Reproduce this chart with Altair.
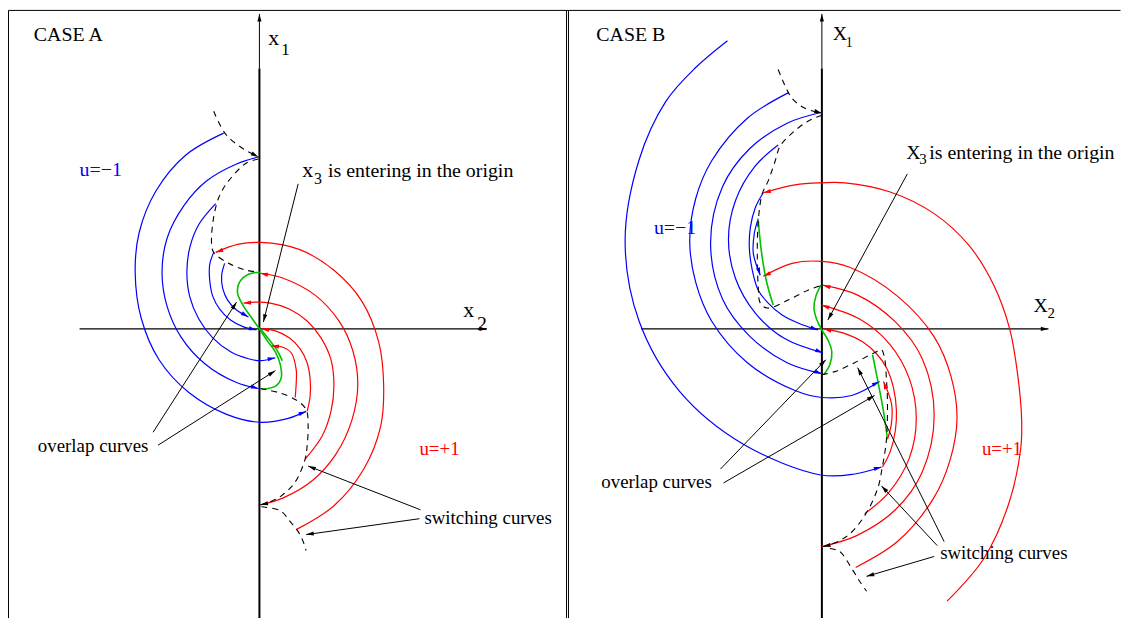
import math
import altair as alt
import pandas as pd

BLUE, RED, GREEN, BLACK = "#0000ff", "#ff0000", "#00c000", "#000000"

# ============ CASE A  (units; origin = crossing of the x2 / x1 axes) ============
A_B1 = [(-3.6, 19.7), (-7.4, 17.5), (-10.4, 13.9), (-12.1, 9.7), (-12.5, 5.6), (-11.9, 1.1), (-10.1, -3.1), (-7.1, -6.4), (-3.3, -8.6), (0.1, -9.4), (2.9, -9.0), (4.7, -8.3)]
A_B2 = [(-0.1, 17.3), (-2.3, 16.6), (-5.3, 14.9), (-7.6, 12.4), (-9.3, 9.1), (-9.8, 5.6), (-9.3, 2.3), (-7.9, -0.8), (-5.5, -3.5), (-2.3, -5.4), (-0.1, -6.0)]
A_B3 = [(-4.4, 12.6), (-6.1, 10.5), (-7.0, 8.2), (-7.3, 5.7), (-7.0, 3.2), (-6.1, 1.0), (-4.7, -0.9), (-2.9, -2.3), (-1.1, -3.0), (0.1, -3.2), (1.6, -2.9)]
A_B4 = [(-4.6, 7.7), (-5.0, 6.5), (-5.0, 4.9), (-4.7, 3.3), (-4.0, 2.0), (-2.9, 0.9), (-1.6, 0.2), (-0.3, -0.1)]
A_B5 = [(-3.5, 6.6), (-3.8, 5.4), (-3.7, 4.1), (-3.2, 2.9), (-2.3, 1.9), (-1.1, 1.2)]

A_R1 = [(3.7, -20.2), (7.5, -17.8), (10.5, -14.1), (12.2, -9.8), (12.5, -5.6), (12.0, -1.3), (10.3, 2.8), (7.5, 5.9), (4.0, 8.0), (0.1, 8.7), (-2.2, 8.5), (-4.4, 7.7)]
A_R2 = [(0.1, -17.7), (2.4, -17.0), (5.4, -15.2), (7.7, -12.6), (9.3, -9.2), (9.9, -5.6), (9.4, -2.2), (8.0, 0.8), (5.6, 3.4), (2.4, 5.1), (0.1, 5.6)]
A_R3 = [(4.6, -13.1), (6.3, -10.8), (7.2, -8.3), (7.5, -5.7), (7.2, -3.1), (6.2, -0.9), (4.8, 0.8), (3.0, 2.0), (1.1, 2.6), (-0.1, 2.7), (-1.6, 2.6)]
A_R4 = [(4.8, -8.3), (5.1, -6.8), (5.1, -5.0), (4.8, -3.4), (4.1, -2.0), (3.0, -0.9), (1.6, -0.2), (0.2, 0.0)]
A_R5 = [(3.6, -6.9), (3.7, -5.5), (3.7, -4.1), (3.2, -2.4), (2.2, -1.8), (1.2, -1.7)]

A_G1 = [(0.1, 5.7), (-1.1, 5.5), (-2.0, 4.7), (-2.2, 3.6), (-1.6, 2.3), (-0.7, 1.0), (0.0, 0.0), (0.8, -1.2), (1.6, -2.3), (2.1, -3.6), (2.2, -4.9), (1.7, -5.7), (0.2, -6.1)]
A_G2 = [(0.2, -0.1), (1.0, -1.1), (1.8, -2.2), (2.3, -3.2)]

A_D1 = [(-4.6, 21.9), (-3.4, 19.6), (-1.6, 18.1), (-0.1, 17.3)]
A_D2 = [(-0.1, 17.1), (-1.3, 16.7), (-3.1, 14.9), (-4.1, 13.2), (-4.7, 10.6), (-4.8, 8.4), (-4.6, 7.7), (-3.1, 6.6), (-1.3, 5.9), (0.0, 5.7)]
A_D3 = [(0.1, -6.0), (1.9, -6.4), (3.6, -7.1), (4.7, -8.1), (4.9, -9.8), (4.8, -11.8), (4.6, -13.1), (3.6, -15.4), (2.2, -16.8), (0.6, -17.6), (0.1, -17.7)]
A_D4 = [(0.2, -17.9), (2.1, -18.3), (3.1, -19.4), (3.9, -20.4), (4.4, -21.4), (4.7, -22.3)]

A_P1 = [(3.9, 14.6), (0.4, 0.7)]
A_P2 = [(-10.7, -10.4), (-2.3, 2.7)]
A_P3 = [(-10.2, -11.7), (1.6, -4.2)]
A_P4 = [(16.2, -18.2), (4.9, -13.8)]
A_P5 = [(16.1, -19.1), (4.7, -20.7)]

A_AX_V_THIN = [(0.0, 26.2), (0.0, 31.7)]
A_AX_V = [(0.0, -29.1), (0.0, 26.2)]
A_AX_H = [(-18.1, 0.0), (22.9, 0.0)]

# ============ CASE B ============
B_B1 = [(-9.5, 29.0), (-12.7, 26.3), (-15.7, 22.9), (-18.4, 17.0), (-19.8, 8.9), (-18.4, 0.8), (-14.3, -6.3), (-7.9, -11.6), (-0.1, -14.7), (3.3, -14.6), (6.0, -13.9)]
B_B2 = [(-3.3, 23.8), (-7.5, 21.2), (-11.1, 16.9), (-12.7, 13.1), (-13.3, 8.9), (-12.7, 4.7), (-11.1, 0.8), (-7.5, -3.4), (-2.7, -6.2), (0.0, -6.9), (3.0, -6.7), (5.8, -5.3)]
B_B3 = [(0.0, 21.8), (-3.5, 20.7), (-7.3, 18.1), (-10.0, 14.3), (-11.2, 8.7), (-10.0, 3.0), (-7.3, -0.7), (-3.5, -3.4), (0.0, -4.5)]
B_B4 = [(-4.4, 18.5), (-6.7, 16.4), (-8.7, 12.9), (-9.4, 9.0), (-8.7, 5.1), (-6.7, 1.6), (-3.7, -1.0), (0.1, -2.4)]
B_B5 = [(-5.9, 13.7), (-6.7, 12.2), (-7.2, 10.2), (-7.3, 8.2), (-7.0, 5.9), (-6.4, 3.9), (-5.4, 2.6), (-4.0, 1.4), (-2.4, 0.6), (-0.4, -0.1)]
B_B6 = [(-6.4, 11.1), (-6.8, 9.6), (-6.9, 7.6), (-6.2, 5.4)]

B_R1 = [(12.6, -27.4), (16.3, -23.1), (18.8, -17.6), (20.0, -12.1), (20.1, -9.1), (19.7, -4.6), (18.9, 0.0), (17.3, 4.4), (14.8, 8.4), (11.3, 11.6), (6.8, 13.8), (2.3, 14.7), (0.0, 14.7), (-2.7, 14.5), (-5.9, 13.7)]
B_R2 = [(3.4, -24.0), (7.6, -21.4), (11.2, -17.1), (12.9, -13.2), (13.6, -9.0), (13.0, -4.8), (11.3, -0.8), (7.6, 3.3), (2.8, 6.2), (0.0, 6.8), (-3.0, 6.6), (-5.9, 5.3)]
B_R3 = [(0.0, -21.9), (3.5, -20.8), (7.4, -18.2), (10.1, -14.4), (11.3, -8.7), (10.1, -3.0), (7.4, 0.7), (3.6, 3.4), (0.1, 4.4)]
B_R4 = [(4.3, -18.6), (6.7, -16.5), (8.8, -13.0), (9.5, -9.0), (8.8, -5.0), (6.8, -1.5), (3.8, 1.0), (0.0, 2.4)]
B_R5 = [(6.1, -13.9), (6.9, -12.3), (7.4, -10.2), (7.5, -8.2), (7.2, -5.9), (6.5, -3.9), (5.5, -2.5), (4.1, -1.3), (2.4, -0.5), (0.2, 0.0)]
B_R6 = [(6.6, -11.1), (7.0, -9.5), (7.0, -7.5), (6.2, -5.3)]

B_G1 = [(-6.4, 10.9), (-6.1, 7.9), (-5.6, 4.9), (-4.9, 2.4)]
B_G2 = [(-0.1, 4.4), (-0.6, 3.3), (-0.8, 2.1), (-0.5, 0.9), (0.0, -0.1), (0.6, -1.1), (1.0, -2.3), (0.8, -3.6), (0.2, -4.6)]
B_G3 = [(5.1, -2.6), (5.7, -5.6), (6.2, -8.3), (6.6, -11.1)]

B_D1 = [(-4.4, 26.1), (-3.9, 24.9), (-3.0, 23.2), (-1.7, 22.2), (0.0, 21.7)]
B_D2 = [(0.0, 21.5), (-1.4, 20.9), (-3.0, 19.7), (-4.2, 18.4), (-4.7, 16.9), (-5.4, 14.9), (-6.0, 13.6), (-6.4, 10.9), (-6.5, 7.6), (-6.4, 4.2), (-6.2, 2.6), (-5.5, 2.1), (-3.4, 2.9), (-1.4, 3.9), (0.0, 4.4)]
B_D3 = [(0.0, -4.6), (1.3, -4.3), (3.3, -3.4), (5.3, -2.4), (6.0, -2.1), (6.3, -2.9), (6.5, -5.1), (6.6, -7.4), (6.5, -11.1), (6.1, -13.8), (5.6, -16.1), (4.3, -18.8), (2.6, -20.8), (0.6, -21.8), (0.1, -21.9)]
B_D4 = [(0.8, -22.1), (1.8, -22.4), (3.0, -24.1), (3.8, -25.4), (4.5, -26.4)]

B_P1 = [(8.6, 15.6), (0.6, 0.9)]
B_P2 = [(-10.2, -14.1), (0.4, -3.1)]
B_P3 = [(-9.9, -15.5), (5.3, -6.7)]
B_P4 = [(11.6, -21.8), (6.0, -15.8)]
B_P5 = [(12.3, -21.4), (3.6, -3.9)]
B_P6 = [(11.3, -22.9), (4.5, -24.9)]

B_AX_V_THIN = [(0.0, 26.2), (0.0, 31.7)]
B_AX_V = [(0.0, -29.1), (0.0, 26.2)]
B_AX_H = [(-18.2, 0.0), (22.8, 0.0)]

# panel frames (in panel-A units)
FRAMES = [
    [(-25.25, 32.05), (86.65, 32.05)],
    [(-25.25, 32.05), (-25.25, -29.1)],
    [(30.9, 32.05), (30.9, -29.1)],
    [(31.1, 32.05), (31.1, -29.1)],
]

# texts: (panel, text, x, y(baseline), font size, color)
TEXTS = [
    ("A", "CASE A", -22.7, 29.0, 20, BLACK),
    ("A", "x", 0.9, 28.6, 22, BLACK),
    ("A", "1", 2.2, 27.6, 17, BLACK),
    ("A", "x", 20.5, 1.2, 22, BLACK),
    ("A", "2", 21.9, -0.1, 20, BLACK),
    ("A", "x", 4.3, 15.3, 22, BLACK),
    ("A", "3", 5.5, 14.6, 16, BLACK),
    ("A", "is entering in the origin", 6.9, 15.3, 20, BLACK),
    ("A", "u=\u22121", -18.1, 15.4, 20, BLUE),
    ("A", "u=+1", 16.1, -12.7, 19, RED),
    ("A", "overlap curves", -22.3, -12.4, 19, BLACK),
    ("A", "switching curves", 16.6, -19.6, 19, BLACK),
    ("B", "CASE B", -22.7, 29.0, 20, BLACK),
    ("B", "X", 1.1, 29.1, 20, BLACK),
    ("B", "1", 2.4, 28.4, 14, BLACK),
    ("B", "X", 21.3, 1.7, 20, BLACK),
    ("B", "2", 22.7, 1.1, 15, BLACK),
    ("B", "X", 8.5, 17.1, 20, BLACK),
    ("B", "3", 9.8, 16.6, 15, BLACK),
    ("B", "is entering in the origin", 10.8, 17.1, 20, BLACK),
    ("B", "u=\u22121", -16.9, 9.6, 20, BLUE),
    ("B", "u=+1", 16.1, -12.7, 19, RED),
    ("B", "overlap curves", -22.2, -16.0, 19, BLACK),
    ("B", "switching curves", 11.9, -23.2, 19, BLACK),
]

OFFSET_B = 56.6
XMIN, XMAX = -25.3, 86.7
YMIN, YMAX = -29.1, 32.1
W, H = 1120, 612

CURVES = [
    # (panel, name, points, color, kind, arrow)
    ("A", "B1", A_B1, BLUE, "solid", True), ("A", "B2", A_B2, BLUE, "solid", True),
    ("A", "B3", A_B3, BLUE, "solid", True), ("A", "B4", A_B4, BLUE, "solid", True),
    ("A", "B5", A_B5, BLUE, "solid", True),
    ("A", "R1", A_R1, RED, "solid", True), ("A", "R2", A_R2, RED, "solid", True),
    ("A", "R3", A_R3, RED, "solid", True), ("A", "R4", A_R4, RED, "solid", True),
    ("A", "R5", A_R5, RED, "solid", True),
    ("A", "G1", A_G1, GREEN, "green", False), ("A", "G2", A_G2, GREEN, "green", False),
    ("A", "D1", A_D1, BLACK, "dash", True), ("A", "D2", A_D2, BLACK, "dash", False),
    ("A", "D3", A_D3, BLACK, "dash", True), ("A", "D4", A_D4, BLACK, "dash", False),
    ("A", "P1", A_P1, BLACK, "pointer", True), ("A", "P2", A_P2, BLACK, "pointer", True),
    ("A", "P3", A_P3, BLACK, "pointer", True), ("A", "P4", A_P4, BLACK, "pointer", True),
    ("A", "P5", A_P5, BLACK, "pointer", True),
    ("A", "AVT", A_AX_V_THIN, BLACK, "axthin", True), ("A", "AV", A_AX_V, BLACK, "axis", False),
    ("A", "AH", A_AX_H, BLACK, "axh", True),
    ("B", "B1", B_B1, BLUE, "solid", True), ("B", "B2", B_B2, BLUE, "solid", True),
    ("B", "B3", B_B3, BLUE, "solid", True), ("B", "B4", B_B4, BLUE, "solid", True),
    ("B", "B5", B_B5, BLUE, "solid", True), ("B", "B6", B_B6, BLUE, "solid", True),
    ("B", "R1", B_R1, RED, "solid", True), ("B", "R2", B_R2, RED, "solid", True),
    ("B", "R3", B_R3, RED, "solid", True), ("B", "R4", B_R4, RED, "solid", True),
    ("B", "R5", B_R5, RED, "solid", True), ("B", "R6", B_R6, RED, "solid", True),
    ("B", "G1", B_G1, GREEN, "green", False), ("B", "G2", B_G2, GREEN, "green", False),
    ("B", "G3", B_G3, GREEN, "green", False),
    ("B", "D1", B_D1, BLACK, "dash", True), ("B", "D2", B_D2, BLACK, "dash", False),
    ("B", "D3", B_D3, BLACK, "dash", True), ("B", "D4", B_D4, BLACK, "dash", False),
    ("B", "P1", B_P1, BLACK, "pointer", True), ("B", "P2", B_P2, BLACK, "pointer", True),
    ("B", "P3", B_P3, BLACK, "pointer", True), ("B", "P4", B_P4, BLACK, "pointer", True),
    ("B", "P5", B_P5, BLACK, "pointer", True), ("B", "P6", B_P6, BLACK, "pointer", True),
    ("B", "AVT", B_AX_V_THIN, BLACK, "axthin", True), ("B", "AV", B_AX_V, BLACK, "axis", False),
    ("B", "AH", B_AX_H, BLACK, "axh", True),
]

rows, heads = [], []
for panel, name, pts, color, kind, arrow in CURVES:
    off = 0.0 if panel == "A" else OFFSET_B
    cid = panel + name
    for i, (x, y) in enumerate(pts):
        rows.append({"cid": cid, "i": i, "x": x + off, "y": y, "color": color, "kind": kind})
    if arrow:
        (x0, y0), (x1, y1) = pts[-2], pts[-1]
        ang = math.degrees(math.atan2(x1 - x0, y1 - y0)) % 360
        heads.append({"x": x1 + off, "y": y1, "angle": ang, "color": color})
for k, seg in enumerate(FRAMES):
    for i, (x, y) in enumerate(seg):
        rows.append({"cid": f"F{k}", "i": i, "x": x, "y": y, "color": BLACK, "kind": "frame"})

lines = pd.DataFrame(rows)
heads = pd.DataFrame(heads)
texts = pd.DataFrame([
    {"x": x + (0.0 if p == "A" else OFFSET_B), "y": y, "t": t, "fs": fs, "color": c}
    for p, t, x, y, fs, c in TEXTS
])

xs = alt.Scale(domain=[XMIN, XMAX], nice=False, zero=False)
ys = alt.Scale(domain=[YMIN, YMAX], nice=False, zero=False)
X = alt.X("x:Q", scale=xs, axis=None)
Y = alt.Y("y:Q", scale=ys, axis=None)


def line_layer(kind, **mk):
    return alt.Chart(lines).transform_filter(alt.datum.kind == kind).mark_line(**mk).encode(
        x=X, y=Y, detail="cid:N", order="i:Q", color=alt.Color("color:N", scale=None)
    )


layers = [
    line_layer("frame", strokeWidth=1, interpolate="linear", color="#555555"),
    line_layer("axis", strokeWidth=2, interpolate="linear"),
    line_layer("axthin", strokeWidth=1, interpolate="linear"),
    line_layer("axh", strokeWidth=1.4, interpolate="linear"),
    line_layer("solid", strokeWidth=1.2, interpolate="catmull-rom"),
    line_layer("green", strokeWidth=1.6, interpolate="catmull-rom"),
    line_layer("dash", strokeWidth=1.1, interpolate="catmull-rom", strokeDash=[6, 5]),
    line_layer("pointer", strokeWidth=1, interpolate="linear"),
    alt.Chart(heads).mark_point(
        shape="M0,0L0.6,2.2L-0.6,2.2Z", filled=True, size=49, opacity=1, strokeWidth=0
    ).encode(x=X, y=Y, angle=alt.Angle("angle:Q", scale=None), color=alt.Color("color:N", scale=None)),
    alt.Chart(texts).mark_text(font="Liberation Serif", align="left", baseline="alphabetic").encode(
        x=X, y=Y, text="t:N", size=alt.Size("fs:Q", scale=None), color=alt.Color("color:N", scale=None)
    ),
]

chart = alt.layer(*layers).properties(
    width=W, height=H, autosize=alt.AutoSizeParams(type="none"),
    padding={"left": 0, "top": 0, "right": 0, "bottom": 0}, background="white"
).configure_view(stroke=None)

chart.save("out.html", embed_options={"renderer": "svg", "actions": False})
